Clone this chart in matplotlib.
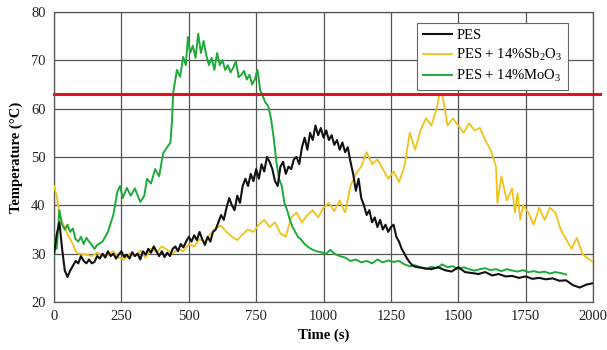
import matplotlib
matplotlib.use("Agg")
import matplotlib.pyplot as plt

plt.rcParams["font.family"] = ["Liberation Serif", "DejaVu Serif"]
plt.rcParams["mathtext.fontset"] = "custom"
plt.rcParams["mathtext.rm"] = "Liberation Serif"
plt.rcParams["mathtext.it"] = "Liberation Serif:italic"

# PES
t_pes = list(range(0, 1360, 10)) + list(range(1375, 2001, 25))
T_pes = [30, 34, 36.5, 31, 26.5, 25.2, 26.5, 27.5, 28.5, 28, 29.5, 28.5, 28, 28.8, 28, 28.3,
         29.5, 29, 30, 29.2, 30.5, 29.5, 30, 29, 29.8, 30.5, 29.3, 29.8, 29, 30.3, 29.5, 30,
         28.8, 30.5, 29.8, 31, 30.2, 31.5, 30.5, 29.5, 30.5, 29.3, 30.2, 29.5, 31, 31.5, 30.5,
         32, 31.3, 32.5, 33.5, 32.5, 33.8, 32.8, 34.5, 33, 31.8, 33.5, 32.5, 34.5, 35, 36.5,
         38, 37, 39.5, 41.5, 40, 39, 42, 40.5, 44, 45.5, 44, 46.5, 45, 47.5, 45.5, 48.5, 47,
         50, 49, 47.5, 45, 44, 48, 49, 46.5, 48, 47.5, 49.5, 50, 48.5, 52, 54, 51.5, 55, 53.5,
         56.5, 54.5, 56, 54, 55.5, 53.5, 54.5, 52.5, 53.5, 51.5, 53, 51, 52, 49, 46.5, 43, 45.5,
         41.5, 40, 38, 39, 36.5, 37.5, 35.5, 37, 35, 36, 34.5, 35.5, 36, 33.5, 32.5, 31, 30,
         29, 28.2, 27.6, 27.3, 27.2,
         27, 26.8, 27.2, 26.6, 26.3, 27.2, 26.2, 26, 25.8, 26.2, 25.5, 25.8, 25.3, 25.4, 25,
         25.3, 24.8, 25, 24.7, 24.9, 24.4, 24.5, 23.5, 23, 23.6, 23.9]

# PES + 14% Sb2O3
t_sb = [0, 10, 20, 30, 40, 50, 60, 70, 80, 90, 100] + list(range(120, 1421, 20)) + \
       [1430, 1440, 1450, 1460] + list(range(1480, 1641, 20)) + \
       [1645, 1660, 1680, 1700, 1710, 1720, 1730, 1740] + list(range(1760, 2001, 20))
T_sb = [44, 42, 38, 36.5, 35.5, 34, 33, 32, 30.5, 30, 30,
        29.8, 29.5, 30.2, 29.6, 29.8, 30.5, 29.2, 28.8, 30, 29.5, 30.6, 29.2, 31, 30.3, 31.5,
        30.8, 30, 31, 30.5, 32, 31.5, 33, 32.5, 34, 35.3, 35.8, 34.5, 33.5, 32.8, 34, 35,
        34.5, 36, 37, 35.5, 36.5, 34.2, 33.5, 37.5, 38.5, 36.5, 38, 39, 37.5, 39.5, 40.5,
        38.8, 41, 38.5, 44, 46.5, 48, 51, 48.5, 49.5, 47.5, 45.5, 47, 44.8, 48, 55, 51.5,
        55.5, 58, 56.5, 60,
        63, 63, 60, 56.5,
        58, 56.5, 55, 57, 55.5, 56, 53.5, 51.5, 48,
        40.5, 46, 41, 43.5, 38.5, 42.5, 37, 40,
        38.5, 36, 39.5, 37, 39.5, 38.5, 35, 33, 31, 33.3, 30, 29, 28.3]

# PES + 14% MoO3
t_mo = [0, 5, 10, 20, 30, 40, 50, 60, 70, 80, 90, 100, 110, 120, 130, 140, 150, 160,
        180, 200, 220, 235, 245, 255, 270, 285, 300, 320, 335, 345, 360, 375, 390, 405,
        420, 432, 438, 442, 456, 468, 479, 489, 497, 505, 515, 525, 535, 545, 555, 565,
        575, 585, 595, 605, 615, 625, 635, 645, 655, 665, 675, 685, 695, 705, 715, 725,
        735, 745, 755, 765, 775, 785, 795, 805, 815, 825, 835, 845, 855, 865, 875, 885,
        895, 905, 915, 930, 945, 960, 975, 990, 1010, 1025, 1040] + list(range(1060, 1901, 20))
T_mo = [29.5, 33, 31, 39, 36, 35, 36, 34.5, 35.2, 33, 32.5, 33.5, 32, 33.3, 32.5, 31.8,
        31, 31.8, 32.5, 34.5, 38, 42.8, 44, 41.5, 43.6, 42, 43.5, 40.7, 42, 45.5, 44.5,
        47.5, 46, 50.8, 52, 53, 57.7, 63.2, 68, 66.6, 70.7, 69, 74.8, 71.5, 73, 70.5, 75.5,
        71.5, 74, 71, 69, 70.5, 68, 71.5, 69, 70, 68, 69, 67.5, 68.5, 69.8, 66.5, 67, 67.8,
        66, 67, 65, 66, 68, 63.8, 62.5, 61.2, 60.5, 58, 54, 49, 45.5, 44, 40.5, 39, 37,
        35.5, 34.5, 33.5, 33, 32, 31.3, 30.8, 30.5, 30.3, 30, 30.8, 30,
        29.5, 29.2, 28.5, 28.8, 28.2, 28.5, 28, 28.8, 28.2, 28.6, 28.3, 28.5, 27.8, 27.4,
        27.6, 27.2, 26.8, 27.3, 27, 27.8, 27.2, 27.4, 26.8, 27.2, 26.8, 26.5, 26.8, 27,
        26.6, 26.8, 26.4, 26.8, 26.5, 26.3, 26.6, 26.2, 26.4, 26.1, 26.3, 25.9, 26.2, 26,
        25.7]

limit_T = 63

fig = plt.figure(figsize=(6.07, 3.5), dpi=100)
ax = fig.add_axes([0.089, 0.137, 0.888, 0.829])

ax.plot(t_pes, T_pes, color="#111111", lw=1.5, label="PES", zorder=4)
ax.plot(t_sb, T_sb, color="#f2c21b", lw=1.3, label="PES + 14%Sb$_2$O$_3$", zorder=3)
ax.plot(t_mo, T_mo, color="#1eaa3a", lw=1.4, label="PES + 14%MoO$_3$", zorder=3)
ax.axhline(limit_T, xmin=0, xmax=1.013, color="#e3101f", lw=2.2, clip_on=False, zorder=5)

ax.set_xlim(0, 2000)
ax.set_ylim(20, 80)
ax.set_xticks(range(0, 2001, 250))
ax.set_yticks(range(20, 81, 10))
ax.tick_params(length=0, labelsize=10.5, pad=6, colors="#222222")
ax.grid(True, color="#555555", lw=0.9)
ax.set_axisbelow(True)
for s in ax.spines.values():
    s.set_color("#555555")
    s.set_linewidth(0.9)

ax.set_xlabel("Time (s)", fontsize=10.5, fontweight="bold", labelpad=4)
ax.set_ylabel("Temperature (°C)", fontsize=10.5, fontweight="bold", labelpad=6)

leg = ax.legend(loc="upper right", bbox_to_anchor=(568 / 607, 1 - 23 / 350),
                bbox_transform=fig.transFigure, borderaxespad=0, fontsize=10.5,
                fancybox=False, framealpha=1, edgecolor="#666666", handlelength=2.0,
                handletextpad=0.3, labelspacing=0.35, borderpad=0.4)
leg.get_frame().set_linewidth(0.8)

fig.savefig("out.png", dpi=100)
